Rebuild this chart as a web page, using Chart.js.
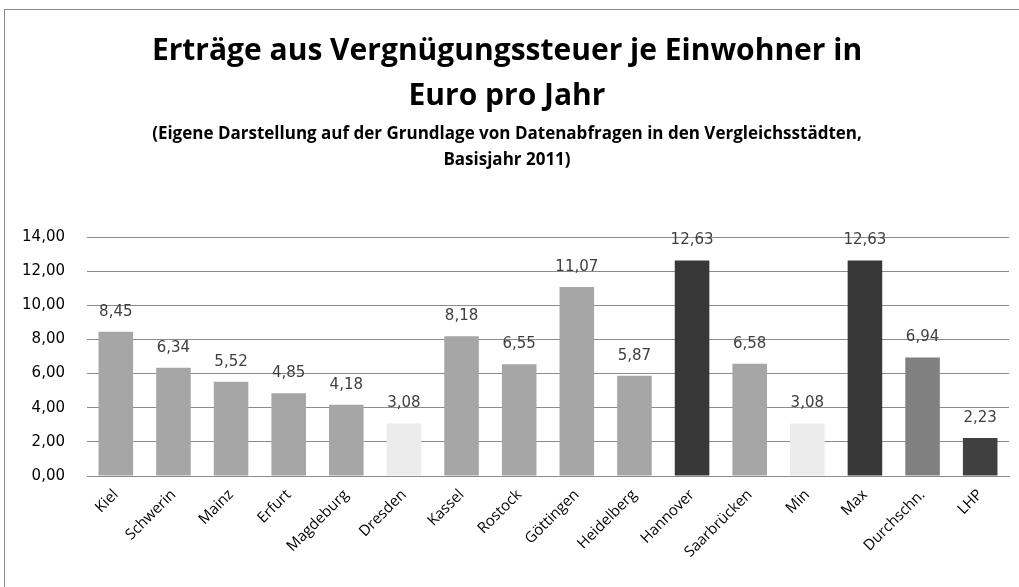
<!DOCTYPE html>
<html lang="de">
<head>
  <meta charset="UTF-8">
  <title>Vergnügungssteuer je Einwohner</title>
  <script src="https://cdn.jsdelivr.net/npm/chart.js"></script>
  <style>
    html, body { margin: 0; padding: 0; background: #fff; }
    #frame { position: absolute; left: 4px; top: 9px; width: 1040px; height: 620px; border: 1px solid #8c8c8c; }
    #wrap { position: absolute; left: 0; top: 0; width: 1019px; height: 587px; }
  </style>
</head>
<body>
  <div id="frame"></div>
  <div id="wrap"><canvas id="chart"></canvas></div>

  <script>
    // Werte aus der Grafik (Euro je Einwohner, 2011)
    const cities = ['Kiel', 'Schwerin', 'Mainz', 'Erfurt', 'Magdeburg', 'Dresden', 'Kassel', 'Rostock',
      'Göttingen', 'Heidelberg', 'Hannover', 'Saarbrücken', 'Min', 'Max', 'Durchschn.', 'LHP'];
    const values = [8.45, 6.34, 5.52, 4.85, 4.18, 3.08, 8.18, 6.55, 11.07, 5.87, 12.63, 6.58, 3.08, 12.63, 6.94, 2.23];
    const barColors = ['#a6a6a6', '#a6a6a6', '#a6a6a6', '#a6a6a6', '#a6a6a6', '#ececec', '#a6a6a6', '#a6a6a6',
      '#a6a6a6', '#a6a6a6', '#383838', '#a6a6a6', '#ececec', '#383838', '#808080', '#404040'];
    const yTicks = [0, 2, 4, 6, 8, 10, 12, 14];

    const deNum = v => v.toFixed(2).replace('.', ',');

    // Wertebeschriftung über den Balken
    const valueLabels = {
      id: 'valueLabels',
      afterDatasetsDraw(chart) {
        const ctx = chart.ctx;
        const meta = chart.getDatasetMeta(0);
        ctx.save();
        ctx.font = '15px "DejaVu Sans"';
        ctx.fillStyle = '#404040';
        ctx.textAlign = 'center';
        ctx.textBaseline = 'middle';
        meta.data.forEach((bar, i) => {
          ctx.fillText(deNum(values[i]), bar.x, bar.y - 20);
        });
        ctx.restore();
      }
    };

    new Chart(document.getElementById('chart'), {
      type: 'bar',
      data: {
        labels: cities,
        datasets: [{
          data: values,
          backgroundColor: barColors,
          categoryPercentage: 1,
          barPercentage: 0.6
        }]
      },
      options: {
        responsive: true,
        maintainAspectRatio: false,
        animation: false,
        layout: { padding: { left: 5, right: 10, top: 0, bottom: 0 } },
        plugins: {
          legend: { display: false },
          tooltip: { enabled: false },
          title: {
            display: true,
            text: ['Erträge aus Vergnügungssteuer je Einwohner in', 'Euro pro Jahr'],
            color: '#000',
            font: { family: '"Open Sans"', size: 30, weight: 'bold', lineHeight: 1.5 },
            padding: { top: 29, bottom: 1 }
          },
          subtitle: {
            display: true,
            text: ['(Eigene Darstellung auf der Grundlage von Datenabfragen in den Vergleichsstädten,', 'Basisjahr 2011)'],
            color: '#000',
            font: { family: '"Open Sans"', size: 17, weight: 'bold', lineHeight: 1.53 },
            padding: { top: 1, bottom: 64 }
          }
        },
        scales: {
          x: {
            grid: { display: false, drawTicks: false },
            border: { color: '#8c8c8c', width: 1 },
            ticks: {
              color: '#000',
              font: { family: '"Open Sans"', size: 15 },
              maxRotation: 45,
              minRotation: 45,
              padding: 10,
              autoSkip: false
            },
            afterFit(scale) { scale.height = 111; }
          },
          y: {
            min: 0,
            max: 14,
            afterBuildTicks(scale) { scale.ticks = yTicks.map(v => ({ value: v })); },
            grid: { color: '#8c8c8c', drawTicks: false },
            border: { display: false },
            ticks: {
              color: '#000',
              font: { family: '"DejaVu Sans"', size: 15 },
              padding: 22,
              callback: v => deNum(v)
            },
            afterFit(scale) { scale.width = 82; }
          }
        }
      },
      plugins: [valueLabels]
    });
  </script>
</body>
</html>
